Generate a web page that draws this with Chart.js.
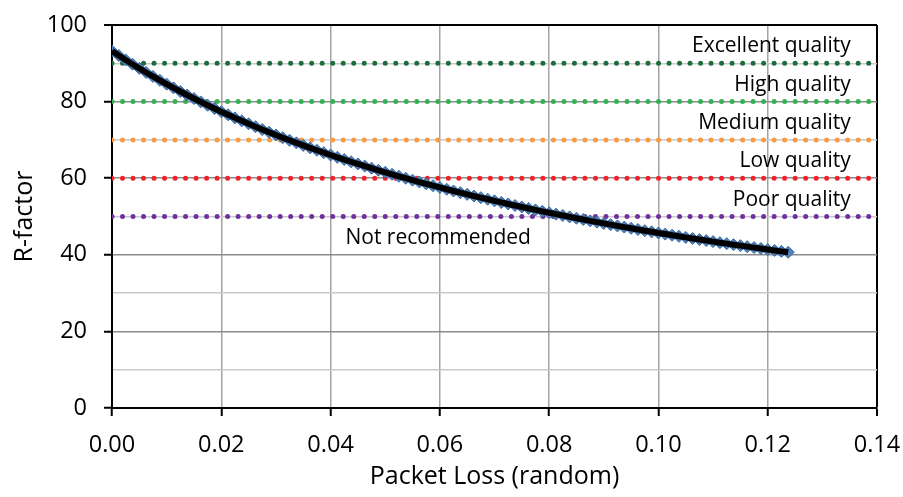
<!DOCTYPE html>
<html>
<head>
<meta charset="utf-8">
<title>R-factor vs packet loss</title>
<script src="https://cdn.jsdelivr.net/npm/chart.js@4.4.1/dist/chart.umd.min.js"></script>
<style>
  html, body { margin: 0; padding: 0; background: #ffffff; }
  #wrap { width: 903px; height: 497px; }
</style>
</head>
<body>
<div id="wrap"><canvas id="chart" width="903" height="497"></canvas></div>
<script>
// Random packet loss (fraction) and the resulting R-factor
const packetLoss = [
  0, 0.00125, 0.0025, 0.00375, 0.005, 0.00625, 0.0075, 0.00875, 0.01, 0.01125,
  0.0125, 0.01375, 0.015, 0.01625, 0.0175, 0.01875, 0.02, 0.02125, 0.0225, 0.02375,
  0.025, 0.02625, 0.0275, 0.02875, 0.03, 0.03125, 0.0325, 0.03375, 0.035, 0.03625,
  0.0375, 0.03875, 0.04, 0.04125, 0.0425, 0.04375, 0.045, 0.04625, 0.0475, 0.04875,
  0.05, 0.05125, 0.0525, 0.05375, 0.055, 0.05625, 0.0575, 0.05875, 0.06, 0.06125,
  0.0625, 0.06375, 0.065, 0.06625, 0.0675, 0.06875, 0.07, 0.07125, 0.0725, 0.07375,
  0.075, 0.07625, 0.0775, 0.07875, 0.08, 0.08125, 0.0825, 0.08375, 0.085, 0.08625,
  0.0875, 0.08875, 0.09, 0.09125, 0.0925, 0.09375, 0.095, 0.09625, 0.0975, 0.09875,
  0.1, 0.10125, 0.1025, 0.10375, 0.105, 0.10625, 0.1075, 0.10875, 0.11, 0.11125,
  0.1125, 0.11375, 0.115, 0.11625, 0.1175, 0.11875, 0.12, 0.12125, 0.1225, 0.12375
];
const rFactor = [
  93.20, 92.03, 90.88, 89.77, 88.68, 87.61, 86.57, 85.56, 84.56, 83.59,
  82.64, 81.72, 80.81, 79.92, 79.05, 78.20, 77.37, 76.55, 75.75, 74.97,
  74.20, 73.45, 72.71, 71.99, 71.28, 70.58, 69.90, 69.23, 68.57, 67.92,
  67.29, 66.67, 66.06, 65.46, 64.87, 64.29, 63.72, 63.16, 62.61, 62.07,
  61.53, 61.01, 60.50, 59.99, 59.49, 59.00, 58.52, 58.04, 57.58, 57.12,
  56.66, 56.22, 55.78, 55.34, 54.92, 54.50, 54.08, 53.67, 53.27, 52.88,
  52.49, 52.10, 51.72, 51.35, 50.98, 50.61, 50.26, 49.90, 49.55, 49.21,
  48.87, 48.53, 48.20, 47.87, 47.55, 47.23, 46.92, 46.61, 46.30, 46.00,
  45.70, 45.41, 45.11, 44.83, 44.54, 44.26, 43.98, 43.71, 43.44, 43.17,
  42.91, 42.64, 42.39, 42.13, 41.88, 41.63, 41.38, 41.14, 40.90, 40.66
];

// Quality thresholds drawn as horizontal dotted lines across the whole axis
const thresholdValues = [90, 80, 70, 60, 50];
const thresholdSpan = [0, 0.14];

// Quality band names and the R-factor each band starts at
const bandNames = ['Excellent quality', 'High quality', 'Medium quality', 'Low quality', 'Poor quality', 'Not recommended'];
const bandFloors = [90, 80, 70, 60, 50, 40];

// Tick labels
const xTickLabels = ['0.00', '0.02', '0.04', '0.06', '0.08', '0.10', '0.12', '0.14'];
const yTickLabels = ['0', '20', '40', '60', '80', '100'];

const thresholdColors = ['#1e6e3d', '#34b152', '#f89b43', '#f2222a', '#7030a0'];
const FONT = 'Open Sans';

const curvePoints = packetLoss.map((x, i) => ({ x: x, y: rFactor[i] }));

const thresholdSets = thresholdValues.map((v, i) => ({
  label: 'R = ' + v,
  data: thresholdSpan.map(x => ({ x: x, y: v })),
  borderColor: thresholdColors[i],
  borderWidth: 5,
  borderDash: [0.01, 10.5],
  borderCapStyle: 'round',
  pointRadius: 0,
  fill: false,
  order: 3
}));

// Text for each quality band, placed with the chart's own scales
const bandLabelPlugin = {
  id: 'bandLabels',
  afterDatasetsDraw(chart, args, opts) {
    const { ctx, scales: { x, y } } = chart;
    ctx.save();
    ctx.font = opts.size + 'px "' + FONT + '"';
    ctx.fillStyle = '#000000';
    ctx.textBaseline = 'alphabetic';
    bandNames.forEach((name, i) => {
      const py = y.getPixelForValue(bandFloors[i]) - opts.lift;
      if (i === bandNames.length - 1) {
        ctx.textAlign = 'center';
        ctx.fillText(name, x.getPixelForValue(opts.centerAt), py);
      } else {
        ctx.textAlign = 'right';
        ctx.fillText(name, x.getPixelForValue(opts.rightAt), py);
      }
    });
    ctx.restore();
  }
};

const isMax = (v, max) => Math.abs(v - max) < 1e-9;

new Chart(document.getElementById('chart'), {
  type: 'line',
  data: {
    datasets: [
      {
        label: 'Trend',
        data: curvePoints,
        borderColor: '#000000',
        borderWidth: 6,
        pointRadius: 0,
        fill: false,
        order: 1
      },
      {
        label: 'R-factor',
        data: curvePoints,
        showLine: false,
        pointStyle: 'rectRot',
        pointRadius: 6,
        pointBackgroundColor: '#4f81bd',
        pointBorderColor: '#3a689f',
        pointBorderWidth: 1,
        order: 2
      },
      ...thresholdSets
    ]
  },
  plugins: [bandLabelPlugin],
  options: {
    responsive: false,
    animation: false,
    devicePixelRatio: 1,
    layout: { padding: { top: 25, right: 26, left: 0, bottom: 0 } },
    plugins: {
      legend: { display: false },
      tooltip: { enabled: false },
      bandLabels: { size: 21, lift: 11, rightAt: 0.1352, centerAt: 0.0597 }
    },
    scales: {
      x: {
        type: 'linear',
        min: 0,
        max: 0.14,
        afterFit: s => { s.height = 89; s.paddingLeft = 0; s.paddingRight = 0; },
        ticks: {
          stepSize: 0.02,
          autoSkip: false,
          maxRotation: 0,
          padding: 15,
          color: '#000000',
          font: { family: FONT, size: 23.5 },
          callback: (v, i) => xTickLabels[i]
        },
        grid: {
          color: c => (c.tick && isMax(c.tick.value, 0.14)) ? '#000000' : '#a3a3a3',
          lineWidth: c => (c.tick && isMax(c.tick.value, 0.14)) ? 2 : 1.5,
          tickColor: '#000000',
          tickLength: 8,
          tickWidth: 2
        },
        border: { color: '#000000', width: 2 },
        title: {
          display: true,
          text: 'Packet Loss (random)',
          color: '#000000',
          font: { family: FONT, size: 25 },
          padding: { top: 0, bottom: 5 }
        }
      },
      y: {
        type: 'linear',
        min: 0,
        max: 100,
        afterFit: s => { s.width = 112; s.paddingTop = 0; s.paddingBottom = 0; },
        ticks: {
          stepSize: 10,
          autoSkip: false,
          padding: 17,
          color: '#000000',
          font: { family: FONT, size: 23.5 },
          callback: v => (v % 20 === 0 ? yTickLabels[v / 20] : '')
        },
        grid: {
          color: c => {
            if (!c.tick) return '#8c8c8c';
            if (c.tick.value === 100) return '#000000';
            return c.tick.value % 20 === 0 ? '#8c8c8c' : '#c9c9c9';
          },
          lineWidth: c => (c.tick && c.tick.value === 100) ? 2 : 1.5,
          tickColor: c => (c.tick && c.tick.value % 20 === 0) ? '#000000' : 'rgba(0,0,0,0)',
          tickLength: 8,
          tickWidth: 2
        },
        border: { color: '#000000', width: 2 },
        title: {
          display: true,
          text: 'R-factor',
          color: '#000000',
          font: { family: FONT, size: 25 },
          padding: { top: 10, bottom: 0 }
        }
      }
    }
  }
});
</script>
</body>
</html>
